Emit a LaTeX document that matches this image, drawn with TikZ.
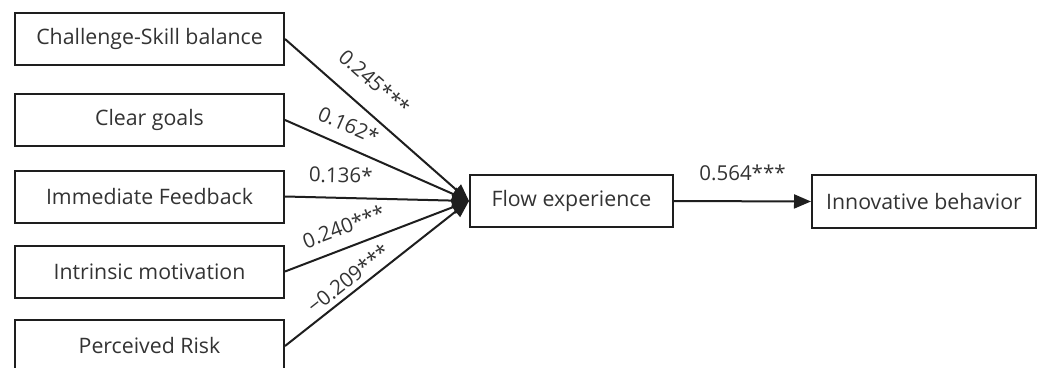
\documentclass[tikz,border=0pt]{standalone}
\usepackage{fontspec}
\setmainfont{Open Sans}
\usetikzlibrary{arrows.meta}
\definecolor{txt}{HTML}{333333}
\definecolor{ln}{HTML}{1E1E1E}
\begin{document}
\begin{tikzpicture}[x=1pt,y=-1pt,
  box/.style={draw=ln,line width=2pt,minimum height=52pt,inner sep=0pt,text=txt,font=\fontsize{21.3}{24}\selectfont},
  conn/.style={draw=ln,line width=2pt,-{Triangle[length=17pt,width=14pt]}},
  lab/.style={text=txt,font=\fontsize{20.5}{23}\selectfont,inner sep=0pt}]
\useasboundingbox (0,0) rectangle (1052,367);
\fill[white] (0,0) rectangle (1052,367);
\node[box,minimum width=269pt] (a) at (149.5,39) {Challenge-Skill balance};
\node[box,minimum width=269pt] (b) at (149.5,120) {Clear goals};
\node[box,minimum width=269pt] (c) at (149.5,196.5) {Immediate Feedback};
\node[box,minimum width=269pt] (d) at (149.5,271.5) {Intrinsic motivation};
\node[box,minimum width=269pt] (e) at (149.5,346) {Perceived Risk};
\node[box,minimum width=203pt] (f) at (571.5,201) {Flow experience};
\node[box,minimum width=224pt,minimum height=53pt] (g) at (924,201.5) {Innovative behavior};
\draw[conn] (a.east) -- node[lab,pos=0.39,sloped,yshift=27pt]{0.245***} (f.west);
\draw[conn] (b.east) -- node[lab,pos=0.30,sloped,yshift=21pt]{0.162*} (f.west);
\draw[conn] (c.east) -- node[lab,pos=0.30,sloped,yshift=23pt]{0.136*} (f.west);
\draw[conn] (d.east) -- node[lab,pos=0.36,sloped,yshift=21pt]{0.240***} (f.west);
\draw[conn] (e.east) -- node[lab,pos=0.39,sloped,yshift=14pt]{−0.209***} (f.west);
\draw[conn] (f.east) -- node[lab,pos=0.5,yshift=28pt]{0.564***} (g.west);
\end{tikzpicture}
\end{document}
